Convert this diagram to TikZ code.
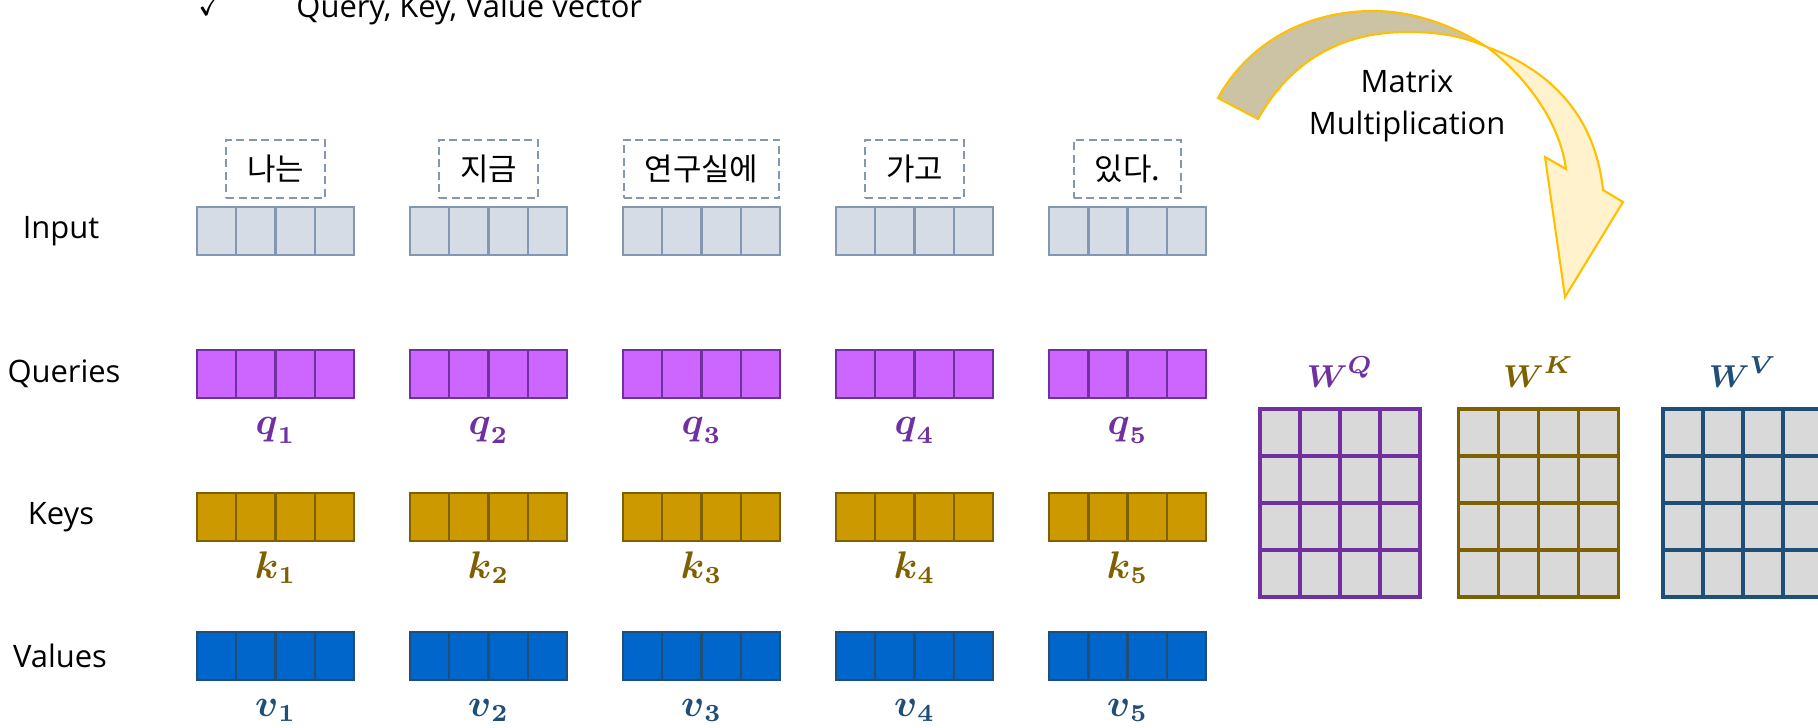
\documentclass[tikz,border=0pt]{standalone}
\usepackage{amsmath,amssymb}
\usepackage{fontspec}
\setmainfont{Open Sans}
\newfontfamily\kor{Noto Sans CJK KR}
\usetikzlibrary{positioning}

\definecolor{inpfill}{HTML}{D6DCE5}
\definecolor{inpline}{HTML}{8497B0}
\definecolor{qfill}{HTML}{CC66FF}
\definecolor{qline}{HTML}{7030A0}
\definecolor{kfill}{HTML}{CC9900}
\definecolor{kline}{HTML}{7F6000}
\definecolor{vfill}{HTML}{0066CC}
\definecolor{vline}{HTML}{1F4E79}
\definecolor{matfill}{HTML}{D9D9D9}
\definecolor{arrowback}{HTML}{CCC3A5}
\definecolor{arrowfront}{HTML}{FFF2CC}
\definecolor{arrowline}{HTML}{FFC000}

\tikzset{
  vecbox/.style={draw=#1line, fill=#1fill, line width=0.7pt, minimum width=15.7mm, minimum height=4.8mm, inner sep=0pt, outer sep=0pt},
  wordbox/.style={draw=inpline, dash pattern=on 0.8mm off 0.45mm, line width=0.55pt, minimum height=5.8mm, inner xsep=2.1mm, font=\kor\fontsize{8.8}{10}\selectfont},
  matbox/.style={draw=#1line, fill=matfill, line width=1.1pt, minimum width=16mm, minimum height=18.8mm, inner sep=0pt, outer sep=0pt},
  veclabel/.style={anchor=base, text=#1line, font=\fontsize{10.5}{12}\selectfont},
}

\begin{document}
\begin{tikzpicture}[x=0.1mm, y=-0.1mm, font=\fontsize{8.8}{10.5}\selectfont]
\clip (0,0) rectangle (1818,727);

% title line (cut off at the top)
\node[anchor=base] (tick) at (211,16) {$\checkmark$};
\node[anchor=base west] (title) at (284,18) {Query, Key, Value vector};

% row names
\node (inlab) at (61,231) {Input};
\node (qlab) at (64,374) {Queries};
\node (klab) at (61,517) {Keys};
\node (vlab) at (60,656) {Values};

% five tokens with their vectors
\foreach \w [count=\n] in {나는,지금,연구실에,가고,있다.}{
  \pgfmathsetmacro\cx{275.5+213*(\n-1)}
  \node[vecbox=inp] (in\n) at (\cx,231) {};
  \node[wordbox, above=0.8mm of in\n] (w\n) {\w};
  \node[vecbox=q] (q\n) at (\cx,374) {};
  \node[vecbox=k] (k\n) at (\cx,517) {};
  \node[vecbox=v] (v\n) at (\cx,656) {};
  \foreach \r/\s in {in/inp,q/q,k/k,v/v}
    \foreach \c in {1,2,3}
      \draw[draw=\s line, line width=0.7pt] ([xshift=\c*3.925mm]\r\n.north west) -- ([xshift=\c*3.925mm]\r\n.south west);
  \node[veclabel=q] (ql\n) at (\cx,434) {$\boldsymbol{q}_{\boldsymbol{\n}}$};
  \node[veclabel=k] (kl\n) at (\cx,578) {$\boldsymbol{k}_{\boldsymbol{\n}}$};
  \node[veclabel=v] (vl\n) at (\cx,716) {$\boldsymbol{v}_{\boldsymbol{\n}}$};
}

% weight matrices
\node[matbox=q] (WQ) at (1340,503) {};
\node[matbox=k] (WK) at (1538.5,503) {};
\node[matbox=v] (WV) at (1743,503) {};
\foreach \m/\s in {WQ/q,WK/k,WV/v}
  \foreach \c in {1,2,3}{
    \draw[draw=\s line, line width=1.1pt] ([xshift=\c*4mm]\m.north west) -- ([xshift=\c*4mm]\m.south west);
    \draw[draw=\s line, line width=1.1pt] ([yshift=-\c*4.7mm]\m.north west) -- ([yshift=-\c*4.7mm]\m.north east);
  }
\node[veclabel=q, font=\fontsize{9.5}{11}\selectfont] (WQlab) at (1340,387) {$\boldsymbol{W}^{\boldsymbol{Q}}$};
\node[veclabel=k, font=\fontsize{9.5}{11}\selectfont] (WKlab) at (1538.5,387) {$\boldsymbol{W}^{\boldsymbol{K}}$};
\node[veclabel=v, font=\fontsize{9.5}{11}\selectfont] (WVlab) at (1743,387) {$\boldsymbol{W}^{\boldsymbol{V}}$};

% curved arrow: back part, then front part with the head
\filldraw[fill=arrowback, draw=arrowline, line width=0.6pt, line join=miter]
  (1218,98) .. controls (1250,40) and (1310,11) .. (1373,11)
  .. controls (1420,11) and (1460,30) .. (1487,47)
  .. controls (1462,36) and (1440,32) .. (1407,32)
  .. controls (1340,32) and (1290,62) .. (1258,119) -- cycle;
\filldraw[fill=arrowfront, draw=arrowline, line width=0.6pt, line join=miter]
  (1487,47) .. controls (1550,70) and (1595,115) .. (1603,190)
  -- (1623,202) -- (1565,297) -- (1545,157) -- (1566,169)
  .. controls (1560,125) and (1530,80) .. (1487,47) -- cycle;
\node[align=center, font=\fontsize{8.8}{11.95}\selectfont] (mult) at (1407,106) {Matrix\\Multiplication};
\end{tikzpicture}
\end{document}
